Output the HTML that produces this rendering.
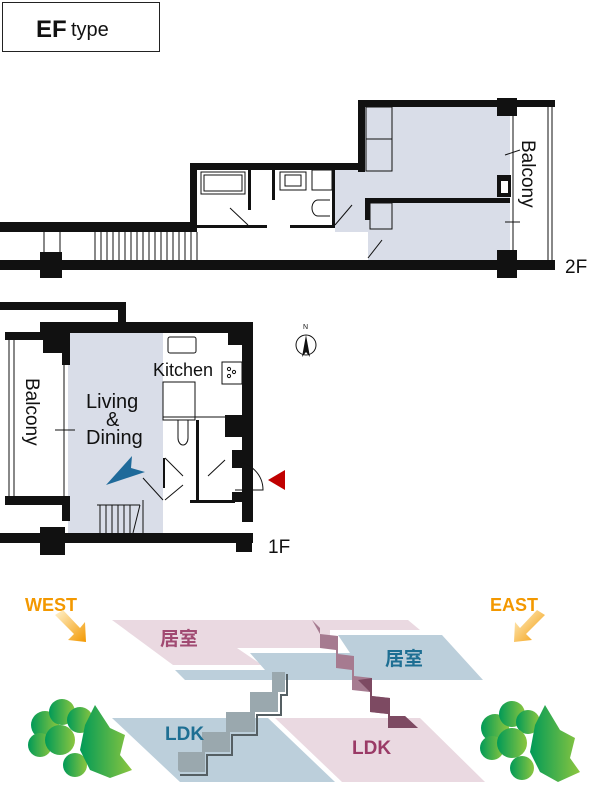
<!DOCTYPE html>
<html><head><meta charset="utf-8"><style>
html,body{margin:0;padding:0;background:#fff;}
svg{display:block;font-family:"Liberation Sans","Noto Sans CJK JP",sans-serif;}
</style></head><body>
<svg width="600" height="790" viewBox="0 0 600 790" xmlns="http://www.w3.org/2000/svg">
<defs>
<linearGradient id="tg" x1="0" x2="1"><stop offset="0" stop-color="#009a57"/><stop offset="1" stop-color="#8cc63f"/></linearGradient>
<linearGradient id="og" x1="0" y1="0" x2="1" y2="1"><stop offset="0" stop-color="#fff3d0"/><stop offset="1" stop-color="#f39800"/></linearGradient>
</defs>
<rect x="2.5" y="2.5" width="157" height="49" fill="#fff" stroke="#222" stroke-width="1"/>
<text x="36" y="37" font-size="24" font-weight="bold" fill="#111">EF</text>
<text x="71" y="36" font-size="20" fill="#111">type</text>

<!-- 2F -->
<polygon points="365,107 510,107 510,262 368,262 368,232 335,232 335,170 365,170" fill="#d9dde8"/>
<rect x="335" y="203" width="33" height="29" fill="#d9dde8"/>
<g fill="#111">
<rect x="358" y="100" width="197" height="7"/>
<rect x="358" y="100" width="7" height="72"/>
<rect x="190" y="163" width="175" height="7"/>
<rect x="190" y="163" width="7" height="67"/>
<rect x="0" y="222" width="197" height="10"/>
<rect x="0" y="260" width="555" height="10"/>
<rect x="40" y="252" width="22" height="26"/>
<rect x="497" y="250" width="20" height="28"/>
<rect x="497" y="98" width="20" height="18"/>
<rect x="368" y="198" width="142" height="5"/>
<rect x="365" y="198" width="5" height="22"/>
<rect x="497" y="175" width="14" height="22"/>
<rect x="197" y="225" width="70" height="3"/>
<rect x="290" y="225" width="45" height="3"/>
<rect x="332" y="170" width="3" height="58"/>
<rect x="248" y="170" width="3" height="40"/>
<rect x="272" y="170" width="3" height="30"/>
</g>
<rect x="501" y="181" width="7" height="12" fill="#fff"/>
<g fill="none" stroke="#111" stroke-width="1">
<rect x="201" y="172" width="44" height="22"/><rect x="204" y="175" width="38" height="16"/>
<rect x="280" y="172" width="26" height="18"/><rect x="285" y="175" width="16" height="11"/>
<rect x="312" y="170" width="20" height="20"/>
<path d="M330 200 h-12 a6 8 0 0 0 0 16 h12"/>
<rect x="366" y="107" width="26" height="32"/><rect x="366" y="139" width="26" height="32"/>
<rect x="370" y="203" width="22" height="26"/>
<line x1="230" y1="208" x2="248" y2="225"/>
<line x1="335" y1="225" x2="352" y2="205"/>
<line x1="368" y1="258" x2="382" y2="240"/>
<line x1="513" y1="115" x2="513" y2="250"/>
<line x1="548" y1="107" x2="548" y2="260"/><line x1="552" y1="107" x2="552" y2="260"/>
<line x1="44" y1="232" x2="44" y2="254"/><line x1="60" y1="232" x2="60" y2="254"/>
<line x1="505" y1="155" x2="520" y2="150"/>
<line x1="505" y1="222" x2="520" y2="222"/>
</g>
<g stroke="#111" stroke-width="1">
<line x1="95" y1="232" x2="95" y2="260"/><line x1="101" y1="232" x2="101" y2="260"/><line x1="107" y1="232" x2="107" y2="260"/><line x1="113" y1="232" x2="113" y2="260"/><line x1="119" y1="232" x2="119" y2="260"/><line x1="125" y1="232" x2="125" y2="260"/><line x1="131" y1="232" x2="131" y2="260"/><line x1="137" y1="232" x2="137" y2="260"/><line x1="143" y1="232" x2="143" y2="260"/><line x1="149" y1="232" x2="149" y2="260"/><line x1="155" y1="232" x2="155" y2="260"/><line x1="161" y1="232" x2="161" y2="260"/><line x1="167" y1="232" x2="167" y2="260"/><line x1="173" y1="232" x2="173" y2="260"/><line x1="179" y1="232" x2="179" y2="260"/><line x1="185" y1="232" x2="185" y2="260"/><line x1="191" y1="232" x2="191" y2="260"/><line x1="197" y1="232" x2="197" y2="260"/>
</g>
<text transform="translate(522,140) rotate(90)" font-size="19" fill="#111">Balcony</text>
<text x="565" y="273" font-size="19" fill="#111">2F</text>

<!-- 1F -->
<rect x="68" y="333" width="95" height="200" fill="#d9dde8"/>
<g fill="#111">
<rect x="0" y="302" width="118" height="8"/>
<rect x="118" y="302" width="8" height="22"/>
<rect x="40" y="322" width="213" height="11"/>
<rect x="242" y="322" width="11" height="200"/>
<rect x="0" y="533" width="253" height="10"/>
<rect x="40" y="527" width="25" height="28"/>
<rect x="5" y="332" width="60" height="8"/>
<rect x="5" y="496" width="60" height="9"/>
<rect x="43" y="333" width="22" height="20"/>
<rect x="62" y="330" width="8" height="35"/>
<rect x="62" y="496" width="8" height="25"/>
<rect x="228" y="333" width="20" height="12"/>
<rect x="225" y="415" width="20" height="22"/>
<rect x="232" y="450" width="10" height="18"/>
<rect x="232" y="492" width="10" height="10"/>
<rect x="236" y="540" width="16" height="12"/>
<rect x="163" y="458" width="2" height="30"/>
<rect x="196" y="420" width="3" height="80"/>
<rect x="190" y="500" width="45" height="3"/>
</g>
<g fill="none" stroke="#111" stroke-width="1">
<rect x="168" y="337" width="28" height="16" rx="2"/>
<rect x="222" y="362" width="20" height="22"/>
<circle cx="229" cy="369" r="1.6"/><circle cx="234" cy="372" r="1.6"/><circle cx="229" cy="376" r="1.6"/>
<rect x="163" y="382" width="32" height="38"/>
<line x1="163" y1="417" x2="245" y2="417"/>
<path d="M178 420 v18 a5 7 0 0 0 10 0 v-18"/>
<line x1="9" y1="340" x2="9" y2="496"/><line x1="14" y1="340" x2="14" y2="496"/>
<line x1="64" y1="365" x2="64" y2="496"/>
<line x1="55" y1="430" x2="75" y2="430"/>
<line x1="143" y1="478" x2="163" y2="500"/>
<line x1="165" y1="458" x2="183" y2="476"/>
<line x1="165" y1="500" x2="183" y2="485"/>
<line x1="208" y1="476" x2="225" y2="460"/>
<path d="M235 462 a28 28 0 0 1 28 28 h-28"/>
<line x1="100" y1="505" x2="100" y2="533"/><line x1="106" y1="505" x2="106" y2="533"/><line x1="112" y1="505" x2="112" y2="533"/><line x1="118" y1="505" x2="118" y2="533"/><line x1="124" y1="505" x2="124" y2="533"/><line x1="130" y1="505" x2="130" y2="533"/>
<line x1="97" y1="505" x2="140" y2="505"/>
<line x1="140" y1="505" x2="133" y2="533"/>
<line x1="143" y1="500" x2="143" y2="533"/>
<circle cx="306" cy="345" r="10"/>
</g>
<polygon points="306,335 302,357 306,352 310,357" fill="#111"/>
<text x="303" y="329" font-size="7" fill="#111">N</text>
<text transform="translate(26,378) rotate(90)" font-size="19" fill="#111">Balcony</text>
<text x="153" y="376" font-size="18" fill="#111">Kitchen</text>
<text x="86" y="408" font-size="20" fill="#111">Living</text>
<text x="106" y="426" font-size="20" fill="#111">&amp;</text>
<text x="86" y="444" font-size="20" fill="#111">Dining</text>
<polygon points="106,485 132,456 131,468 145,472" fill="#1f6a9a"/>
<polygon points="268,480 285,470 285,490" fill="#c00000"/>
<text x="268" y="553" font-size="19" fill="#111">1F</text>

<!-- 3D diagram -->
<text x="25" y="611" font-size="18" font-weight="bold" fill="#f39800">WEST</text>
<text x="490" y="611" font-size="18" font-weight="bold" fill="#f39800">EAST</text>
<polygon points="55,615 63,610 80,628 85,622 86,642 68,640 74,634" fill="url(#og)"/>
<polygon points="545,615 537,610 520,628 515,622 514,642 532,640 526,634" fill="url(#og)"/>

<polygon points="112,620 408,620 420,630 330,630 330,648 237,648 262,665 173,665" fill="#ead9e1"/>
<polygon points="250,653 350,653 338,635 442,635 483,680 185,680 175,670 265,670" fill="#bccfdb"/>
<polygon points="112,718 268,718 335,782 180,782" fill="#bccfdb"/>
<polygon points="275,718 420,718 485,782 342,782" fill="#ead9e1"/>
<polygon points="180,772 205,772 205,752 230,752 230,732 255,732 255,712 278,712 278,692 285,692 285,672 272,672 272,692 250,692 250,712 226,712 226,732 202,732 202,752 178,752 178,770" fill="#9aa8ae"/>
<polyline points="180,775 207,775 207,755 232,755 232,735 257,735 257,715 281,715 281,695 287,695 287,674" fill="none" stroke="#555f63" stroke-width="2"/>
<polygon points="312,620 320,628 320,648 336,650 336,668 352,670 352,690 370,692 370,712 388,714 388,728 418,728 405,716 390,716 390,698 372,696 372,678 354,676 354,656 338,654 338,636 320,634" fill="#a67b90"/>
<polygon points="358,680 370,692 370,712 388,714 388,728 418,728 405,716 390,716 390,698 372,696 372,678" fill="#7d4a62"/>
<text x="160" y="645" font-size="19" font-weight="bold" fill="#a14a72">居室</text>
<text x="385" y="665" font-size="19" font-weight="bold" fill="#1e6f93">居室</text>
<text x="165" y="740" font-size="19" font-weight="bold" fill="#1e6f93">LDK</text>
<text x="352" y="754" font-size="19" font-weight="bold" fill="#9a3a66">LDK</text>
<g fill="url(#tg)">
<circle cx="45" cy="725" r="14"/><circle cx="62" cy="712" r="13"/><circle cx="80" cy="720" r="13"/><circle cx="40" cy="745" r="12"/><circle cx="60" cy="740" r="15"/><circle cx="75" cy="765" r="12"/>
<polygon points="95,705 110,728 125,735 120,755 132,770 110,778 90,770 80,750 85,725"/>
</g>
<g fill="url(#tg)">
<circle cx="495" cy="728" r="14"/><circle cx="512" cy="714" r="13"/><circle cx="528" cy="722" r="12"/><circle cx="492" cy="748" r="12"/><circle cx="512" cy="743" r="15"/><circle cx="522" cy="768" r="12"/>
<polygon points="545,705 560,730 575,738 570,758 580,772 558,782 540,772 530,752 535,725"/>
</g>
</svg>
</body></html>
